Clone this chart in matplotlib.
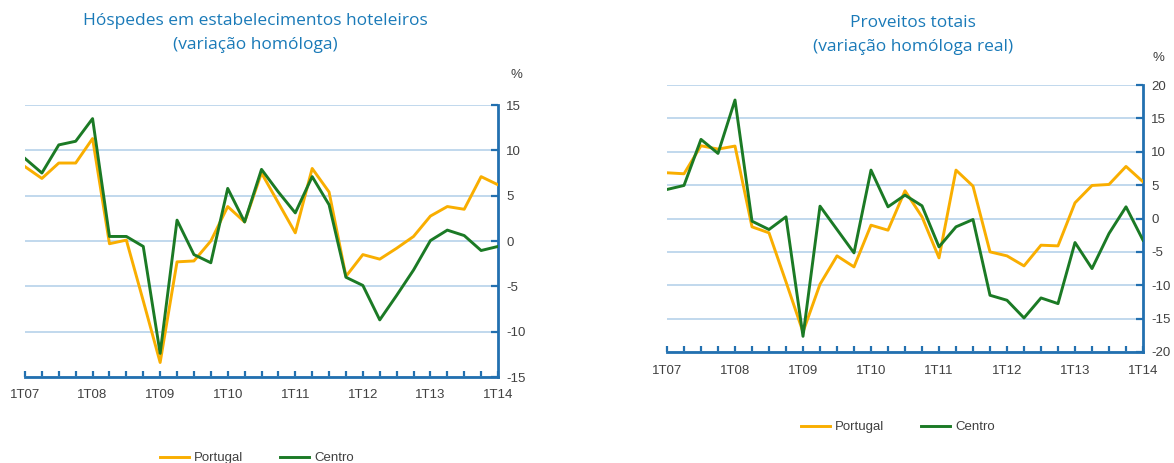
import matplotlib
matplotlib.use('Agg')
import matplotlib.pyplot as plt
from matplotlib.ticker import MultipleLocator

# trimestres 1T07 .. 1T14
quarters = [f'{q}T{y:02d}' for y in range(7, 15) for q in range(1, 5)][:29]
tick_labels = ['1T07', '1T08', '1T09', '1T10', '1T11', '1T12', '1T13', '1T14']

# Hóspedes (variação homóloga, %)
hosp_portugal = [8.2, 6.9, 8.6, 8.6, 11.3, -0.3, 0.1, -6.6, -13.4, -2.3, -2.2, 0.0,
                 3.8, 2.1, 7.5, 4.2, 0.9, 8.0, 5.4, -3.9, -1.5, -2.0, -0.8, 0.5,
                 2.75, 3.8, 3.5, 7.1, 6.2]
hosp_centro = [9.1, 7.5, 10.6, 11.0, 13.5, 0.5, 0.5, -0.6, -12.4, 2.3, -1.5, -2.4,
               5.8, 2.1, 7.9, 5.4, 3.1, 7.1, 4.0, -4.0, -4.9, -8.7, -6.0, -3.2,
               0.05, 1.2, 0.6, -1.05, -0.6]

# Proveitos totais (variação homóloga real, %)
prov_portugal = [6.85, 6.7, 10.9, 10.4, 10.85, -1.25, -2.15, -9.5, -17.0, -9.85, -5.6, -7.25,
                 -1.0, -1.75, 4.15, 0.25, -5.9, 7.25, 4.85, -5.0, -5.6, -7.1, -4.0, -4.1,
                 2.35, 4.95, 5.1, 7.8, 5.5]
prov_centro = [4.35, 4.95, 11.85, 9.75, 17.75, -0.4, -1.65, 0.25, -17.65, 1.85, -1.65, -5.15,
               7.25, 1.75, 3.5, 1.9, -4.25, -1.25, -0.15, -11.5, -12.25, -14.9, -11.9, -12.75,
               -3.6, -7.5, -2.25, 1.75, -3.25]

ORANGE = '#f9ae00'
GREEN = '#1b7a25'
AXBLUE = '#2270b0'
GRID = '#bcd6ec'
TITLE = '#1a7ab8'
TXT = '#404040'

plt.rcParams['font.family'] = ['Liberation Sans', 'DejaVu Sans']
plt.rcParams['axes.unicode_minus'] = False

fig = plt.figure(figsize=(11.74, 4.63), dpi=100)


def draw_panel(rect, portugal, centro, ylim, ystep, title, title_xy, pct_xy, leg_xy):
    ax = fig.add_axes(rect)
    x = list(range(len(quarters)))
    ax.set_xlim(0, len(quarters) - 1)
    ax.set_ylim(*ylim)
    ax.yaxis.set_major_locator(MultipleLocator(ystep))
    ax.yaxis.tick_right()
    ax.xaxis.set_minor_locator(MultipleLocator(1))
    ax.set_xticks(range(0, len(quarters), 4))
    ax.set_xticklabels(tick_labels)
    ax.grid(axis='y', color=GRID, lw=1.3, zorder=0)
    for s in ['left', 'top']:
        ax.spines[s].set_visible(False)
    for s in ['bottom', 'right']:
        ax.spines[s].set_color(AXBLUE)
        ax.spines[s].set_linewidth(2)
    ax.tick_params(axis='both', which='both', direction='in', color=AXBLUE,
                   width=1.6, labelsize=9.5, labelcolor=TXT)
    ax.tick_params(axis='x', which='both', length=4, pad=9)
    ax.tick_params(axis='y', length=5, pad=6)
    ax.plot(x, portugal, color=ORANGE, lw=2.1, label='Portugal', zorder=3)
    ax.plot(x, centro, color=GREEN, lw=2.1, label='Centro', zorder=3)
    fig.text(title_xy[0], title_xy[1], title, ha='center', va='center', color=TITLE,
             fontsize=12.5, family=['Open Sans', 'DejaVu Sans'], linespacing=1.6)
    fig.text(pct_xy[0], pct_xy[1], '%', ha='center', va='center', color=TXT, fontsize=9.5)
    ax.legend(loc='center', bbox_to_anchor=leg_xy, bbox_transform=fig.transFigure,
              ncol=2, frameon=False, fontsize=9.5, handlelength=2.2, handletextpad=0.4,
              columnspacing=2.8, labelcolor=TXT)
    return ax


W, H = 1174, 463
draw_panel([25 / W, 1 - 377 / H, 473 / W, 272 / H], hosp_portugal, hosp_centro,
           (-15, 15), 5, 'Hóspedes em estabelecimentos hoteleiros\n(variação homóloga)',
           (255 / W, 1 - 33 / H), (516 / W, 1 - 75 / H), (257 / W, 1 - 458 / H))
draw_panel([667 / W, 1 - 352 / H, 476 / W, 267 / H], prov_portugal, prov_centro,
           (-20, 20), 5, 'Proveitos totais\n(variação homóloga real)',
           (913 / W, 1 - 35 / H), (1158 / W, 1 - 58 / H), (898 / W, 1 - 427 / H))

fig.savefig('out.png', dpi=100)
